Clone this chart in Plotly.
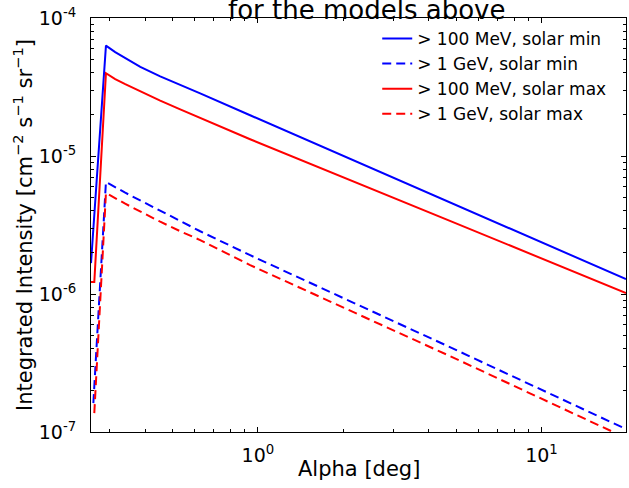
import numpy as np
import plotly.graph_objects as go

# ---- data ----
x_100mev_min = [0.258, 0.2913, 0.314, 0.3406, 0.385, 0.4525, 0.5324, 0.626, 0.939, 4.755, 19.86]
y_100mev_min = [1.674e-6, 6.31e-5, 5.66e-5, 5.11e-5, 4.43e-5, 3.78e-5, 3.26e-5, 2.84e-5, 1.974e-5, 4.61e-6, 1.282e-6]

x_1gev_min = [0.263, 0.2913, 0.3406, 0.385, 0.4525, 0.5324, 0.626, 0.939, 4.755, 19.86]
y_1gev_min = [1.62e-7, 6.49e-6, 5.42e-6, 4.75e-6, 4.02e-6, 3.37e-6, 2.85e-6, 1.91e-6, 4.12e-7, 1.05e-7]

x_100mev_max = [0.258, 0.265, 0.2913, 0.314, 0.3406, 0.385, 0.4525, 0.5324, 0.626, 0.939, 4.755, 19.86]
y_100mev_max = [1.22e-6, 1.22e-6, 3.98e-5, 3.61e-5, 3.32e-5, 2.94e-5, 2.52e-5, 2.175e-5, 1.887e-5, 1.323e-5, 3.39e-6, 1.015e-6]

x_1gev_max = [0.265, 0.2913, 0.3406, 0.385, 0.4525, 0.5324, 0.626, 0.939, 4.755, 19.86]
y_1gev_max = [1.37e-7, 5.40e-6, 4.51e-6, 3.95e-6, 3.34e-6, 2.85e-6, 2.46e-6, 1.62e-6, 3.55e-7, 9.05e-8]

names = ["> 100 MeV, solar min", "> 1 GeV, solar min",
         "> 100 MeV, solar max", "> 1 GeV, solar max"]
colors = ["#0000ff", "#0000ff", "#ff0000", "#ff0000"]
dashes = ["solid", "9px,5px", "solid", "9px,5px"]

x_tickvals = [1, 10]
x_ticktext = ["10<sup>0</sup>", "10<sup>1</sup>"]
y_tickvals = [1e-7, 1e-6, 1e-5, 1e-4]
y_ticktext = ["10<sup>-7</sup>", "10<sup>-6</sup>", "10<sup>-5</sup>", "10<sup>-4</sup>"]

title_text = "for the models above"
x_title = "Alpha [deg]"
y_title = "Integrated Intensity [cm<sup>\u22122</sup> s<sup>\u22121</sup> sr<sup>\u22121</sup>]"

FONT = "DejaVu Sans"

series = [(x_100mev_min, y_100mev_min), (x_1gev_min, y_1gev_min),
          (x_100mev_max, y_100mev_max), (x_1gev_max, y_1gev_max)]

fig = go.Figure()
for (xs, ys), nm, c, d in zip(series, names, colors, dashes):
    fig.add_trace(go.Scatter(x=xs, y=ys, mode="lines", name=nm,
                             line=dict(color=c, width=2, dash=d)))

all_x = [v for xs, _ in series for v in xs]
xmin, xmax = min(all_x), max(all_x)

x_minor = [m * 10.0 ** e for e in range(-1, 2) for m in range(2, 10)
           if xmin < m * 10.0 ** e < xmax]
y_minor = [m * 10.0 ** e for e in range(-7, -4) for m in range(2, 10)]

axis_common = dict(
    type="log", showgrid=False, zeroline=False, automargin=False,
    showline=True, linecolor="black", linewidth=1, mirror="ticks",
    ticks="inside", ticklen=5, tickwidth=1, tickcolor="black",
    tickfont=dict(family=FONT, size=19, color="black"),
)

fig.update_xaxes(**axis_common,
                 range=[np.log10(xmin), np.log10(xmax)],
                 tickvals=x_tickvals, ticktext=x_ticktext,
                 minor=dict(tickvals=x_minor, ticks="inside", ticklen=3,
                            tickwidth=1, tickcolor="black"),
                 ticklabelstandoff=6)
fig.update_yaxes(**axis_common,
                 range=[-7, -4],
                 tickvals=y_tickvals, ticktext=y_ticktext,
                 minor=dict(tickvals=y_minor, ticks="inside", ticklen=3,
                            tickwidth=1, tickcolor="black"),
                 ticklabelstandoff=10)

# axis titles
fig.add_annotation(text=x_title, xref="paper", yref="paper",
                   x=0.5, y=0, yshift=-37, xanchor="center", yanchor="middle",
                   showarrow=False, font=dict(family=FONT, size=21, color="black"))
fig.add_annotation(text=y_title, xref="paper", yref="paper", textangle=-90,
                   x=0, xshift=-68, y=0.5, xanchor="center", yanchor="middle",
                   showarrow=False, font=dict(family=FONT, size=21, color="black"))

fig.add_annotation(text=title_text, xref="paper", yref="paper",
                   x=0.515, y=1, xanchor="center", yanchor="bottom",
                   yshift=-9, showarrow=False,
                   font=dict(family=FONT, size=26, color="black"))

fig.update_layout(
    width=629, height=488, autosize=False,
    margin=dict(l=91, r=3, t=18, b=56, pad=0),
    paper_bgcolor="white", plot_bgcolor="white",
    font=dict(family=FONT, color="black"),
    showlegend=True,
    legend=dict(x=0.535, y=0.993, xanchor="left", yanchor="top",
                bgcolor="rgba(0,0,0,0)", borderwidth=0,
                font=dict(family=FONT, size=17, color="black")),
)

fig.write_html("out.html", config={"displayModeBar": False},
               post_script="document.body.style.margin='0';document.body.style.overflow='hidden';")
